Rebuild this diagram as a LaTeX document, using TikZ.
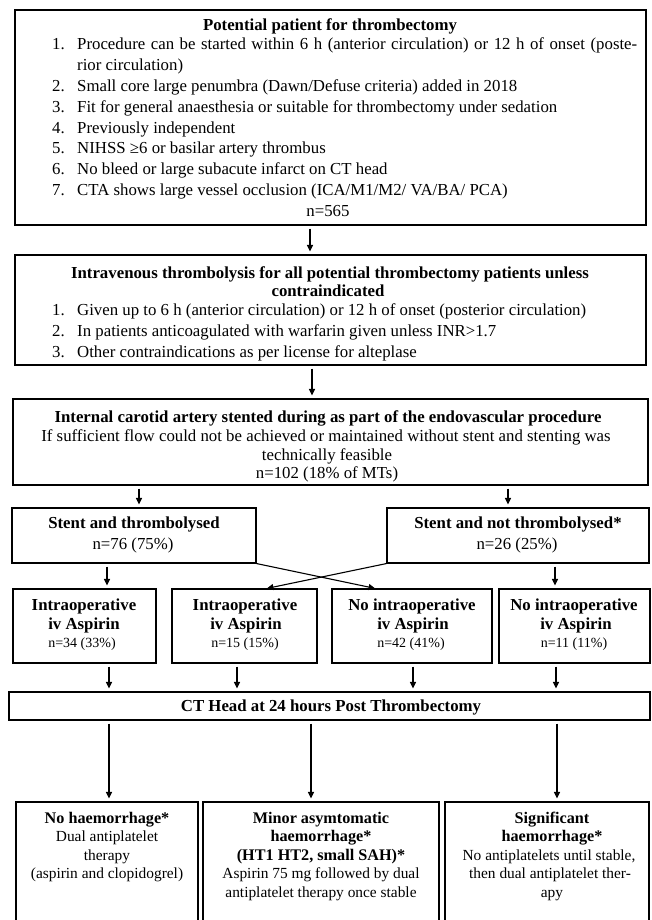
\documentclass[tikz,border=0pt]{standalone}
\usepackage{fontspec}
\setmainfont{Liberation Serif}
\usetikzlibrary{arrows.meta}
\newcommand\lnum[1]{\makebox[25pt][l]{#1}}
\begin{document}
\begin{tikzpicture}[x=1pt,y=-1pt,
  box/.style={draw, line width=1.1pt, inner sep=0pt, rectangle},
  arr/.style={draw, line width=1.1pt, -{Triangle[length=6.5pt,width=6pt]}, shorten <=3pt, shorten >=3pt},
  txt/.style={anchor=base, inner sep=0pt, font=\fontsize{16.8}{20}\selectfont},
  txtb/.style={anchor=base, inner sep=0pt, font=\fontsize{16.8}{20}\selectfont\bfseries},
  lst/.style={anchor=base west, inner sep=0pt, font=\fontsize{16.8}{20}\selectfont},
  txts/.style={anchor=base, inner sep=0pt, font=\fontsize{14}{17}\selectfont},
  txtm/.style={anchor=base, inner sep=0pt, font=\fontsize{15.4}{19}\selectfont},
  txtmb/.style={anchor=base, inner sep=0pt, font=\fontsize{16.2}{19}\selectfont\bfseries},
]
\useasboundingbox (0,0) rectangle (651,920);

% ---------- boxes ----------
\node[box, minimum width=631pt, minimum height=215pt] (b1) at (330.5,117.5) {};
\node[box, minimum width=631pt, minimum height=110pt] (b2) at (330.5,310) {};
\node[box, minimum width=635pt, minimum height=86pt]  (b3) at (330.5,442) {};
\node[box, minimum width=244pt, minimum height=55pt]  (sL) at (134,535.5) {};
\node[box, minimum width=262pt, minimum height=55pt]  (sR) at (518,535.5) {};
\node[box, minimum width=143pt, minimum height=74pt]  (rA) at (84.5,626) {};
\node[box, minimum width=145pt, minimum height=74pt]  (rB) at (244.5,626) {};
\node[box, minimum width=160pt, minimum height=74pt]  (rC) at (412,626) {};
\node[box, minimum width=151pt, minimum height=74pt]  (rD) at (574.5,626) {};
\node[box, minimum width=641pt, minimum height=28pt]  (ct) at (329.5,706) {};
\node[box, minimum width=182pt, minimum height=138pt] (oE) at (107,871) {};
\node[box, minimum width=236pt, minimum height=138pt] (oF) at (321,871) {};
\node[box, minimum width=204pt, minimum height=138pt] (oG) at (547,871) {};

% ---------- box 1 text ----------
\node[txtb] (t1) at (330,31) {Potential patient for thrombectomy};
\node[lst] (t1a) at (52,50) {\lnum{1.}\makebox[560pt][s]{Procedure can be started within 6 h (anterior circulation) or 12 h of onset (poste-}};
\node[lst] (t1b) at (77,70.8) {rior circulation)};
\node[lst] (t1c) at (52,91.6) {\lnum{2.}Small core large penumbra (Dawn/Defuse criteria) added in 2018};
\node[lst] (t1d) at (52,112.4) {\lnum{3.}Fit for general anaesthesia or suitable for thrombectomy under sedation};
\node[lst] (t1e) at (52,133.2) {\lnum{4.}Previously independent};
\node[lst] (t1f) at (52,154) {\lnum{5.}NIHSS ≥6 or basilar artery thrombus};
\node[lst] (t1g) at (52,174.8) {\lnum{6.}No bleed or large subacute infarct on CT head};
\node[lst] (t1h) at (52,195.6) {\lnum{7.}CTA shows large vessel occlusion (ICA/M1/M2/ VA/BA/ PCA)};
\node[txt] (t1n) at (328,216.4) {n=565};

% ---------- box 2 text ----------
\node[txtb] (t2) at (330,278) {Intravenous thrombolysis for all potential thrombectomy patients unless};
\node[txtb] (t2b) at (328,296) {contraindicated};
\node[lst] (t2c) at (52,315) {\lnum{1.}Given up to 6 h (anterior circulation) or 12 h of onset (posterior circulation)};
\node[lst] (t2d) at (52,336) {\lnum{2.}In patients anticoagulated with warfarin given unless INR>1.7};
\node[lst] (t2e) at (52,357) {\lnum{3.}Other contraindications as per license for alteplase};

% ---------- box 3 text ----------
\node[txtb] (t3) at (328,422) {Internal carotid artery stented during as part of the endovascular procedure};
\node[txt] (t3b) at (326,441) {If sufficient flow could not be achieved or maintained without stent and stenting was};
\node[txt] (t3c) at (327,460) {technically feasible};
\node[txt] (t3d) at (327,478) {n=102 (18\% of MTs)};

% ---------- stent boxes ----------
\node[txtb] (tsL) at (134,528) {Stent and thrombolysed};
\node[txt]  (tsL2) at (133,549) {n=76 (75\%)};
\node[txtb] (tsR) at (518,528) {Stent and not thrombolysed*};
\node[txt]  (tsR2) at (517,549) {n=26 (25\%)};

% ---------- row 3 ----------
\node[txtb] (tA1) at (84,610) {Intraoperative};
\node[txtb] (tA2) at (84,629) {iv Aspirin};
\node[txts] (tA3) at (82,647) {n=34 (33\%)};
\node[txtb] (tB1) at (245,610) {Intraoperative};
\node[txtb] (tB2) at (246,629) {iv Aspirin};
\node[txts] (tB3) at (245,647) {n=15 (15\%)};
\node[txtb] (tC1) at (412,610) {No intraoperative};
\node[txtb] (tC2) at (413,629) {iv Aspirin};
\node[txts] (tC3) at (411,647) {n=42 (41\%)};
\node[txtb] (tD1) at (574,610) {No intraoperative};
\node[txtb] (tD2) at (576,629) {iv Aspirin};
\node[txts] (tD3) at (574,647) {n=11 (11\%)};

% ---------- CT ----------
\node[txtb] (tct) at (331,711) {CT Head at 24 hours Post Thrombectomy};

% ---------- outcome boxes ----------
\node[txtmb] (tE1) at (107,823) {No haemorrhage*};
\node[txtm]  (tE2) at (107,841.5) {Dual antiplatelet};
\node[txtm]  (tE3) at (107,860) {therapy};
\node[txtm]  (tE4) at (107,878.5) {(aspirin and clopidogrel)};
\node[txtmb] (tF1) at (321,823) {Minor asymtomatic};
\node[txtmb] (tF2) at (321,841.5) {haemorrhage*};
\node[txtmb] (tF3) at (321,860) {(HT1 HT2, small SAH)*};
\node[txtm]  (tF4) at (321,878.5) {Aspirin 75 mg followed by dual};
\node[txtm]  (tF5) at (321,897) {antiplatelet therapy once stable};
\node[txtmb] (tG1) at (552,823) {Significant};
\node[txtmb] (tG2) at (552,841.5) {haemorrhage*};
\node[txtm]  (tG3) at (549,860) {No antiplatelets until stable,};
\node[txtm]  (tG4) at (550,878.5) {then dual antiplatelet ther-};
\node[txtm]  (tG5) at (552,897) {apy};

% ---------- arrow columns ----------
\coordinate (x1) at (310,0);
\coordinate (x2) at (312,0);
\coordinate (x3) at (139,0);
\coordinate (x4) at (508,0);
\coordinate (x5) at (107,0);
\coordinate (x6) at (555,0);
\coordinate (x7) at (109,0);
\coordinate (x8) at (237,0);
\coordinate (x9) at (413,0);
\coordinate (x10) at (556,0);
\coordinate (x11) at (311,0);
\coordinate (x12) at (557,0);
\coordinate (cC) at (378,589);
\coordinate (cB) at (264,589);

\draw[arr] (b1.south -| x1) -- (b2.north -| x1);
\draw[arr] (b2.south -| x2) -- (b3.north -| x2);
\draw[arr] (b3.south -| x3) -- (sL.north -| x3);
\draw[arr] (b3.south -| x4) -- (sR.north -| x4);
\draw[arr] (sL.south -| x5) -- (rA.north -| x5);
\draw[arr] (sR.south -| x6) -- (rD.north -| x6);
\draw[arr, shorten <=0pt] (sL.south east) -- (cC);
\draw[arr, shorten <=0pt] (sR.south west) -- (cB);
\draw[arr] (rA.south -| x7) -- (ct.north -| x7);
\draw[arr] (rB.south -| x8) -- (ct.north -| x8);
\draw[arr] (rC.south -| x9) -- (ct.north -| x9);
\draw[arr] (rD.south -| x10) -- (ct.north -| x10);
\draw[arr] (ct.south -| x7) -- (oE.north -| x7);
\draw[arr] (ct.south -| x11) -- (oF.north -| x11);
\draw[arr] (ct.south -| x12) -- (oG.north -| x12);
\end{tikzpicture}
\end{document}
